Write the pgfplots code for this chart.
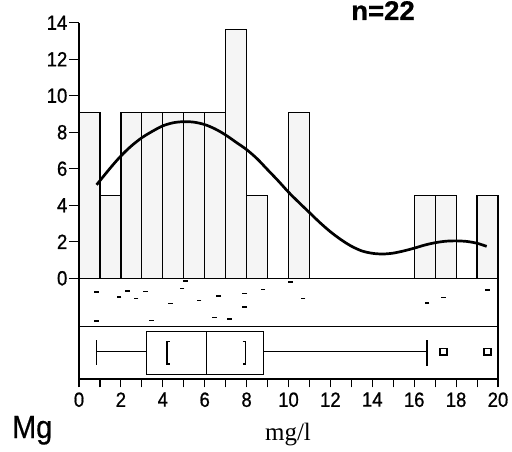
\documentclass[border=0pt]{standalone}
\usepackage{fontspec}
\setmainfont{Liberation Sans}
\newfontfamily\narrowsans[FakeStretch=0.9, FakeBold=0.8]{Liberation Sans}
\newfontfamily\mgsans[FakeStretch=0.9, FakeBold=0.5]{Liberation Sans}
\newfontfamily\titlesans[FakeStretch=1.02, FakeBold=0.8]{Liberation Sans}
\newfontfamily\serifont{Liberation Serif}
\usepackage{pgfplots}
\pgfplotsset{compat=1.18}
\pgfplotsset{
  panel/.style={scale only axis, width=419pt, xmin=0, xmax=20, anchor=south west,
    axis line style={line width=1.3pt}, clip=false},
  tickfont/.style={font=\narrowsans\fontsize{20.5}{21}\selectfont},
}
\begin{document}
\begin{tikzpicture}
% ---------- histogram (percent) ----------
\begin{axis}[panel,
  at={(79pt,172.7pt)}, height=255.6pt,
  ymin=0, ymax=14,
  axis x line=none, axis y line=left,
  y axis line style={-, line width=1.5pt},
  xtick=\empty,
  ytick={0,2,...,14},
  tick align=outside, major tick length=10pt,
  tick style={line width=1.1pt, black},
  yticklabel style={tickfont, inner sep=1.5pt},
  /pgf/number format/assume math mode=true,
]
\addplot[ybar interval, fill=black!4, draw=black, line width=1.2pt] coordinates {
 (0,9.09) (1,4.55) (2,9.09) (3,9.09) (4,9.09) (5,9.09) (6,9.09) (7,13.64)
 (8,4.55) (9,0) (10,9.09) (11,0) (12,0) (13,0) (14,0) (15,0)
 (16,4.55) (17,4.55) (18,0) (19,4.55) (20,4.55)};
\addplot[smooth, line width=2.7pt, black] coordinates {
 (0.84,5.12) (1.5,6.05) (2,6.7) (2.5,7.25) (3,7.7) (3.5,8.05) (4,8.35)
 (4.5,8.52) (5,8.58) (5.5,8.55) (6,8.42) (6.5,8.18) (7,7.85) (7.5,7.45)
 (8,7.05) (8.5,6.55) (9,5.95) (9.5,5.35) (10,4.72) (10.5,4.15) (11,3.6)
 (11.5,3.05) (12,2.55) (12.5,2.12) (13,1.76) (13.5,1.5) (14,1.37)
 (14.5,1.33) (15,1.38) (15.5,1.5) (16,1.65) (16.5,1.82) (17,1.95)
 (17.5,2.03) (18,2.05) (18.5,2.02) (19,1.92) (19.46,1.75)};
\end{axis}
% ---------- strip plot ----------
\begin{axis}[panel,
  at={(79pt,124.3pt)}, height=48.4pt,
  ymin=0, ymax=1, xtick=\empty, ytick=\empty,
]
\addplot[only marks, mark=-, mark size=2.3pt, mark options={line width=1.6pt}] coordinates {
 (0.84,0.72) (0.84,0.12) (1.91,0.61) (2.32,0.74) (2.72,0.58) (3.18,0.73)
 (3.47,0.13) (4.36,0.48) (4.92,0.79) (5.08,0.94) (5.73,0.54) (6.46,0.19)
 (6.67,0.63) (7.18,0.16) (7.91,0.69) (7.91,0.41) (8.78,0.77) (10.09,0.92)
 (10.69,0.58) (16.61,0.49) (17.39,0.60) (19.49,0.76)};
\end{axis}
% ---------- box plot ----------
\begin{axis}[panel,
  at={(79pt,72pt)}, height=52.3pt,
  ymin=0, ymax=1, ytick=\empty,
  xtick={0,2,...,20}, minor xtick={1,3,...,19},
  xtick pos=lower,
  tick align=outside, major tick length=8.3pt, minor tick length=8.3pt,
  tick style={line width=1.1pt, black},
  xticklabel style={tickfont, inner sep=5pt},
  /pgf/number format/assume math mode=true,
]
\addplot[line width=0.9pt] coordinates {(3.2,0.09) (8.8,0.09) (8.8,0.90) (3.2,0.90) (3.2,0.09)};
\addplot[line width=1.1pt] coordinates {(6.1,0.09) (6.1,0.90)};
\addplot[line width=0.8pt] coordinates {(0.84,0.52) (3.2,0.52)};
\addplot[line width=0.8pt] coordinates {(8.8,0.52) (16.61,0.52)};
\addplot[line width=1.1pt] coordinates {(0.84,0.27) (0.84,0.74)};
\addplot[line width=1.1pt] coordinates {(16.61,0.25) (16.61,0.75)};
\addplot[line width=1.5pt] coordinates {(4.33,0.72) (4.19,0.72) (4.19,0.29) (4.33,0.29)};
\addplot[line width=1.5pt] coordinates {(7.81,0.72) (7.95,0.72) (7.95,0.29) (7.81,0.29)};
\addplot[only marks, mark=square, mark size=3.4pt, mark options={line width=1.6pt}] coordinates {(17.39,0.52) (19.49,0.52)};
\end{axis}
% ---------- texts ----------
\node[anchor=base west, inner sep=0] at (12pt,13pt) {\mgsans\fontsize{32}{34}\selectfont Mg};
\node[anchor=base, inner sep=0] at (383pt,431pt) {\titlesans\bfseries\fontsize{27}{29}\selectfont n=22};
\node[anchor=base, inner sep=0] at (288pt,11pt) {\serifont\fontsize{25}{27}\selectfont mg/l};
\pgfresetboundingbox
\path[use as bounding box] (0,0) rectangle (512pt,451pt);
\end{tikzpicture}
\end{document}
